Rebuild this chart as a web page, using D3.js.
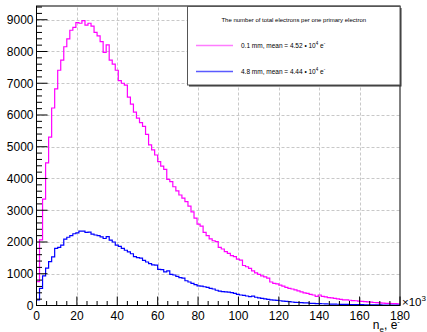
<!DOCTYPE html>
<html>
<head>
<meta charset="utf-8">
<script src="https://cdn.jsdelivr.net/npm/d3@7"></script>
<style>
  body { margin: 0; background: #fff; }
  text { font-family: "Liberation Sans", Arial, sans-serif; fill: #000; }
</style>
</head>
<body>
<div id="chart"></div>
<script>
// bins of 1.5 (x10^3) from 0 to 180
var binWidth = 1.5;
var thinCounts = [
  750, 2070, 3350, 4490, 5300, 6220, 6820, 7410, 7730, 8150,
  8400, 8670, 8760, 8910, 8890, 8970, 8830, 8890, 8800, 8600,
  8490, 8310, 7970, 8210, 7730, 7600, 7410, 7080, 7000, 6940,
  6560, 6340, 6090, 5900, 5760, 5640, 5390, 5060, 4900, 4740,
  4530, 4390, 4290, 3970, 3900, 3740, 3610, 3480, 3380, 3270,
  3130, 2950, 2750, 2560, 2500, 2300, 2200, 2100, 2040, 2010,
  1830, 1780, 1700, 1640, 1570, 1540, 1460, 1430, 1260, 1220,
  1170, 1090, 1030, 980, 930, 900, 860, 740, 700, 680,
  640, 610, 570, 540, 520, 490, 460, 430, 400, 380,
  350, 330, 290, 330, 290, 270, 250, 240, 225, 210,
  195, 180, 175, 165, 155, 150, 140, 130, 120, 115,
  105, 95, 90, 85, 75, 70, 68, 62, 58, 50
];
var thickCounts = [
  175, 540, 930, 1180, 1380, 1530, 1800, 1830, 1900, 2090,
  2150, 2200, 2260, 2290, 2340, 2340, 2300, 2310, 2250, 2220,
  2200, 2160, 2110, 2170, 2060, 2000, 1900, 1860, 1800, 1740,
  1690, 1630, 1540, 1510, 1490, 1420, 1370, 1320, 1280, 1270,
  1140, 1130, 1060, 1090, 980, 960, 920, 880, 860, 780,
  740, 700, 660, 620, 610, 590, 570, 540, 520, 480,
  455, 440, 430, 420, 405, 380, 350, 330, 320, 300,
  280, 295, 260, 240, 225, 210, 195, 180, 170, 160,
  150, 140, 130, 120, 110, 100, 95, 90, 85, 80,
  70, 65, 60, 58, 55, 50, 47, 45, 42, 40,
  38, 35, 33, 30, 30, 28, 26, 25, 24, 22,
  20, 20, 18, 17, 16, 15, 14, 13, 12, 11
];
var xTicks = [0, 20, 40, 60, 80, 100, 120, 140, 160, 180];
var yTicks = [0, 1000, 2000, 3000, 4000, 5000, 6000, 7000, 8000, 9000];
var seriesNames = ["0.1 mm, mean = 4.52 \u2022 10", "4.8 mm, mean = 4.44 \u2022 10"];
var seriesColors = ["#ff00ff", "#0000ff"];
var legendColors = ["#ff7cff", "#5a5aff"];
var legendTitle = "The number of total electrons per one primary electron";

var W = 427, H = 332;
var margin = {left: 36.5, right: 27, top: 6, bottom: 26.5};

var svg = d3.select("#chart").append("svg")
  .attr("width", W).attr("height", H);

var x = d3.scaleLinear().domain([0, 180]).range([margin.left, W - margin.right]);
var y = d3.scaleLinear().domain([0, 9433]).range([H - margin.bottom, margin.top]);

// grid
var grid = svg.append("g").attr("stroke", "#c8c8c8").attr("stroke-dasharray", "3,2").attr("stroke-width", 1);
grid.selectAll(".gx").data(xTicks.slice(1, -1)).enter().append("line")
  .attr("x1", function(d) { return Math.round(x(d)) + 0.5; })
  .attr("x2", function(d) { return Math.round(x(d)) + 0.5; })
  .attr("y1", y.range()[0]).attr("y2", y.range()[1]);
grid.selectAll(".gy").data(yTicks.slice(1)).enter().append("line")
  .attr("x1", x.range()[0]).attr("x2", x.range()[1])
  .attr("y1", function(d) { return Math.round(y(d)) + 0.5; })
  .attr("y2", function(d) { return Math.round(y(d)) + 0.5; });

// histograms
function stepPoints(counts) {
  var pts = counts.map(function(v, i) { return [i * binWidth, v]; });
  pts.push([counts.length * binWidth, counts[counts.length - 1]]);
  return pts;
}
var line = d3.line()
  .x(function(d) { return x(d[0]); })
  .y(function(d) { return y(d[1]); })
  .curve(d3.curveStepAfter);

[thinCounts, thickCounts].forEach(function(c, i) {
  svg.append("path")
    .datum(stepPoints(c))
    .attr("fill", "none")
    .attr("stroke", seriesColors[i])
    .attr("stroke-width", 1.2)
    .attr("d", line);
});

// frame
svg.append("rect")
  .attr("x", x.range()[0]).attr("y", y.range()[1])
  .attr("width", x.range()[1] - x.range()[0])
  .attr("height", y.range()[0] - y.range()[1])
  .attr("fill", "none").attr("stroke", "#000").attr("stroke-width", 1);

// x axis ticks (inside, upward)
var xMinor = d3.range(0, 181, 5);
svg.append("g").selectAll("line").data(xMinor).enter().append("line")
  .attr("x1", function(d) { return x(d); }).attr("x2", function(d) { return x(d); })
  .attr("y1", y(0))
  .attr("y2", function(d) { return y(0) - (d % 20 === 0 ? 9 : 4.5); })
  .attr("stroke", "#000");
svg.append("g").selectAll("text").data(xTicks).enter().append("text")
  .attr("x", function(d) { return x(d); })
  .attr("y", 319.5)
  .attr("text-anchor", "middle")
  .attr("font-size", 12)
  .text(function(d) { return d; });

// y axis ticks (inside, to the right)
var yMinor = d3.range(0, 9401, 200);
svg.append("g").selectAll("line").data(yMinor).enter().append("line")
  .attr("x1", x(0)).attr("x2", function(d) { return x(0) + (d % 1000 === 0 ? 11 : 5.5); })
  .attr("y1", function(d) { return y(d); }).attr("y2", function(d) { return y(d); })
  .attr("stroke", "#000");
svg.append("g").selectAll("text").data(yTicks).enter().append("text")
  .attr("x", 33.5)
  .attr("y", function(d) { return y(d) + 4.3; })
  .attr("text-anchor", "end")
  .attr("font-size", 12)
  .text(function(d) { return d; });

// exponent and title
var ex = svg.append("text").attr("x", 402).attr("y", 305.5).attr("font-size", 11.5);
ex.append("tspan").text("\u00d710");
ex.append("tspan").attr("font-size", 8).attr("dy", -5).text("3");

var xt = svg.append("text").attr("x", 400).attr("y", 329).attr("font-size", 12).attr("text-anchor", "end");
xt.append("tspan").text("n");
xt.append("tspan").attr("font-size", 8).attr("dy", 2.5).text("e");
xt.append("tspan").attr("dy", -2.5).text(", e");
xt.append("tspan").attr("font-size", 8).attr("dy", -5).text("-");

// legend
var lg = svg.append("g");
var lx0 = 187.5, ly0 = 6.5, lw = 212.5, lh = 78.5;
lg.append("rect").attr("x", lx0 + 1.5).attr("y", ly0 + 1.5).attr("width", lw).attr("height", lh).attr("fill", "#333");
lg.append("rect").attr("x", lx0).attr("y", ly0).attr("width", lw).attr("height", lh)
  .attr("fill", "#fff").attr("stroke", "#555").attr("stroke-width", 1);
lg.append("text").attr("x", lx0 + lw / 2).attr("y", 21.5)
  .attr("text-anchor", "middle").attr("font-size", 6).text(legendTitle);

var rowsY = [45.5, 71.5];
seriesNames.forEach(function(name, i) {
  lg.append("line").attr("x1", 196).attr("x2", 233)
    .attr("y1", rowsY[i]).attr("y2", rowsY[i])
    .style("stroke", legendColors[i]).attr("stroke-width", 1.5);
  var t = lg.append("text").attr("x", 241).attr("y", rowsY[i] + 2.3).attr("font-size", 6.5);
  t.append("tspan").text(name);
  t.append("tspan").attr("font-size", 4.5).attr("dy", -2.8).text("4");
  t.append("tspan").attr("dy", 2.8).text(" e");
  t.append("tspan").attr("font-size", 4.5).attr("dy", -2.8).text("-");
});
</script>
</body>
</html>
